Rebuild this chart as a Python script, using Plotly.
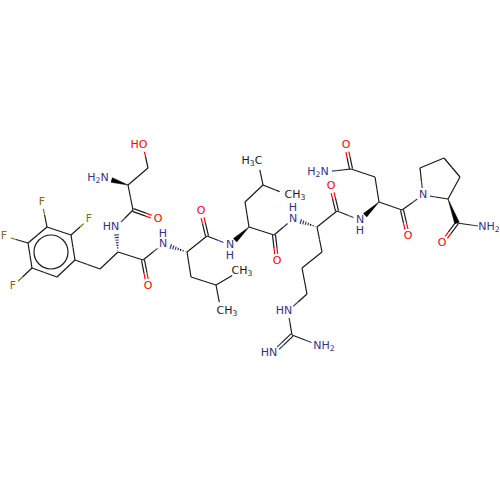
import numpy as np
import plotly.graph_objects as go

# atoms, in picture pixels
atom_x = [143,148,128,105,133,158,116,118,100,75,71,47,28,32,57,89,42,4,13,143,148,163,187,207,201,230,191,216,240,221,
          249,245,263,258,288,274,277,293,317,337,331,360,322,302,307,288,292,318,273,379,375,351,346,325,402,408,423,420,444,460,448,457,442,485]
atom_y = [145,168,185,178,210,219,227,252,269,260,235,227,243,268,277,219,202,236,286,260,286,244,252,236,211,245,277,285,271,311,
          227,202,185,161,195,235,261,219,227,211,186,220,252,268,294,311,335,345,353,202,177,169,145,172,210,236,195,168,158,177,199,223,243,227]
atom_elem = {0:"O",3:"N",5:"O",6:"N",15:"F",16:"F",17:"F",18:"F",20:"O",21:"N",24:"O",25:"N",36:"O",37:"N",40:"O",41:"N",
             45:"N",47:"N",48:"N",52:"O",53:"N",55:"O",56:"N",62:"O",63:"N"}
methyls = [28,29,33,34]

single_bonds = [(0,1),(1,2),(2,4),(4,6),(7,8),(8,9),(9,10),(10,11),(11,12),(12,13),(13,14),(14,9),(10,15),(11,16),(12,17),(13,18),
                (7,19),(19,21),(22,23),(23,25),(22,26),(26,27),(27,28),(27,29),(30,31),(31,32),(32,33),(32,34),(30,35),(35,37),
                (38,39),(39,41),(38,42),(42,43),(43,44),(44,45),(45,46),(46,47),(49,50),(50,51),(51,53),(49,54),(54,56),
                (56,57),(57,58),(58,59),(59,60),(60,56),(61,63)]
double_bonds = [(4,5),(19,20),(23,24),(35,36),(39,40),(46,48),(51,52),(54,55),(61,62)]
solid_wedges = [(2,3),(30,25),(49,41),(60,61)]
hash_wedges = [(7,6),(22,21),(38,37)]

label_x = [139,98,158,111,89,42,4,13,148,163,163,201,230,230,277,293,293,331,360,360,284,324,269,346,318,408,423,442,489]
label_y = [145,178,219,227,219,202,236,286,286,244,234,211,245,256,261,219,208,186,220,231,311,346,353,145,172,236,195,243,227]
label_text = ["HO","H<sub>2</sub>N","O","HN","F","F","F","F","O","N","H","O","N","H","O","N","H","O","N","H","HN","NH<sub>2</sub>","HN","O","H<sub>2</sub>N","O","N","O","NH<sub>2</sub>"]
methyl_x = [242,227,252,295]
methyl_y = [271,311,161,195]
methyl_text = ["CH<sub>3</sub>","CH<sub>3</sub>","H<sub>3</sub>C","CH<sub>3</sub>"]

ring_center = (51,252)
ring_radius = 17

colours = {"N":"#33338c","O":"#ff0000","F":"#8c6a10"}
BLACK = "#1a1a1a"

def trimmed(a, b):
    p = np.array([atom_x[a], atom_y[a]], float)
    q = np.array([atom_x[b], atom_y[b]], float)
    d = (q-p)/np.hypot(*(q-p))
    p2, q2 = p.copy(), q.copy()
    if a in atom_elem or a in methyls:
        p2 = p + d*7
    if b in atom_elem or b in methyls:
        q2 = q - d*(9 if b in methyls else 7)
    return p, q, p2, q2, d

def add_line(fig, p, q, col):
    fig.add_trace(go.Scatter(x=[p[0],q[0]], y=[p[1],q[1]], mode="lines", line=dict(color=col, width=1.2), hoverinfo="skip"))

def add_bond(fig, a, b, off=0.0):
    p, q, p2, q2, d = trimmed(a, b)
    n = np.array([-d[1], d[0]])*off
    mid = (p+q)/2 + n
    add_line(fig, p2+n, mid, colours.get(atom_elem.get(a), BLACK))
    add_line(fig, mid, q2+n, colours.get(atom_elem.get(b), BLACK))

fig = go.Figure()
for a, b in single_bonds:
    add_bond(fig, a, b)
for a, b in double_bonds:
    add_bond(fig, a, b, 1.5)
    add_bond(fig, a, b, -1.5)

for a, b in solid_wedges:
    p, q, p2, q2, d = trimmed(a, b)
    n = np.array([-d[1], d[0]])*2.4
    fig.add_trace(go.Scatter(x=[p[0],q2[0]+n[0],q2[0]-n[0],p[0]], y=[p[1],q2[1]+n[1],q2[1]-n[1],p[1]], mode="lines",
                             fill="toself", fillcolor="#000000", line=dict(color="#000000", width=0.5), hoverinfo="skip"))
for a, b in hash_wedges:
    p, q, p2, q2, d = trimmed(a, b)
    n = np.array([-d[1], d[0]])
    length = np.hypot(*(q2-p))
    for t in np.arange(1.5, length, 2.6):
        w = 2.6*t/length
        c = p + d*t
        add_line(fig, c+n*w, c-n*w, "#000000" if t < length/2 else colours["N"])

fig.add_shape(type="circle", x0=ring_center[0]-ring_radius, x1=ring_center[0]+ring_radius,
              y0=ring_center[1]-ring_radius, y1=ring_center[1]+ring_radius, line=dict(color=BLACK, width=1.2))

label_cols = []
for t in label_text:
    if t == "O":
        label_cols.append(colours["O"])
    elif t == "F":
        label_cols.append(colours["F"])
    else:
        label_cols.append(colours["N"])
label_cols[0] = colours["O"]

fig.add_trace(go.Scatter(x=label_x, y=label_y, text=label_text, mode="text", textposition="middle center",
                         textfont=dict(family="DejaVu Sans", size=11, color=label_cols), hoverinfo="skip"))
fig.add_trace(go.Scatter(x=methyl_x, y=methyl_y, text=methyl_text, mode="text", textposition="middle center",
                         textfont=dict(family="DejaVu Sans", size=11, color=BLACK), hoverinfo="skip"))

fig.update_layout(width=500, height=500, margin=dict(l=0, r=0, t=0, b=0), showlegend=False,
                  plot_bgcolor="white", paper_bgcolor="white",
                  xaxis=dict(range=[0,500], visible=False, fixedrange=True),
                  yaxis=dict(range=[500,0], visible=False, fixedrange=True))
fig.write_html("out.html", config=dict(displayModeBar=False),
               post_script="document.body.style.margin='0';")
